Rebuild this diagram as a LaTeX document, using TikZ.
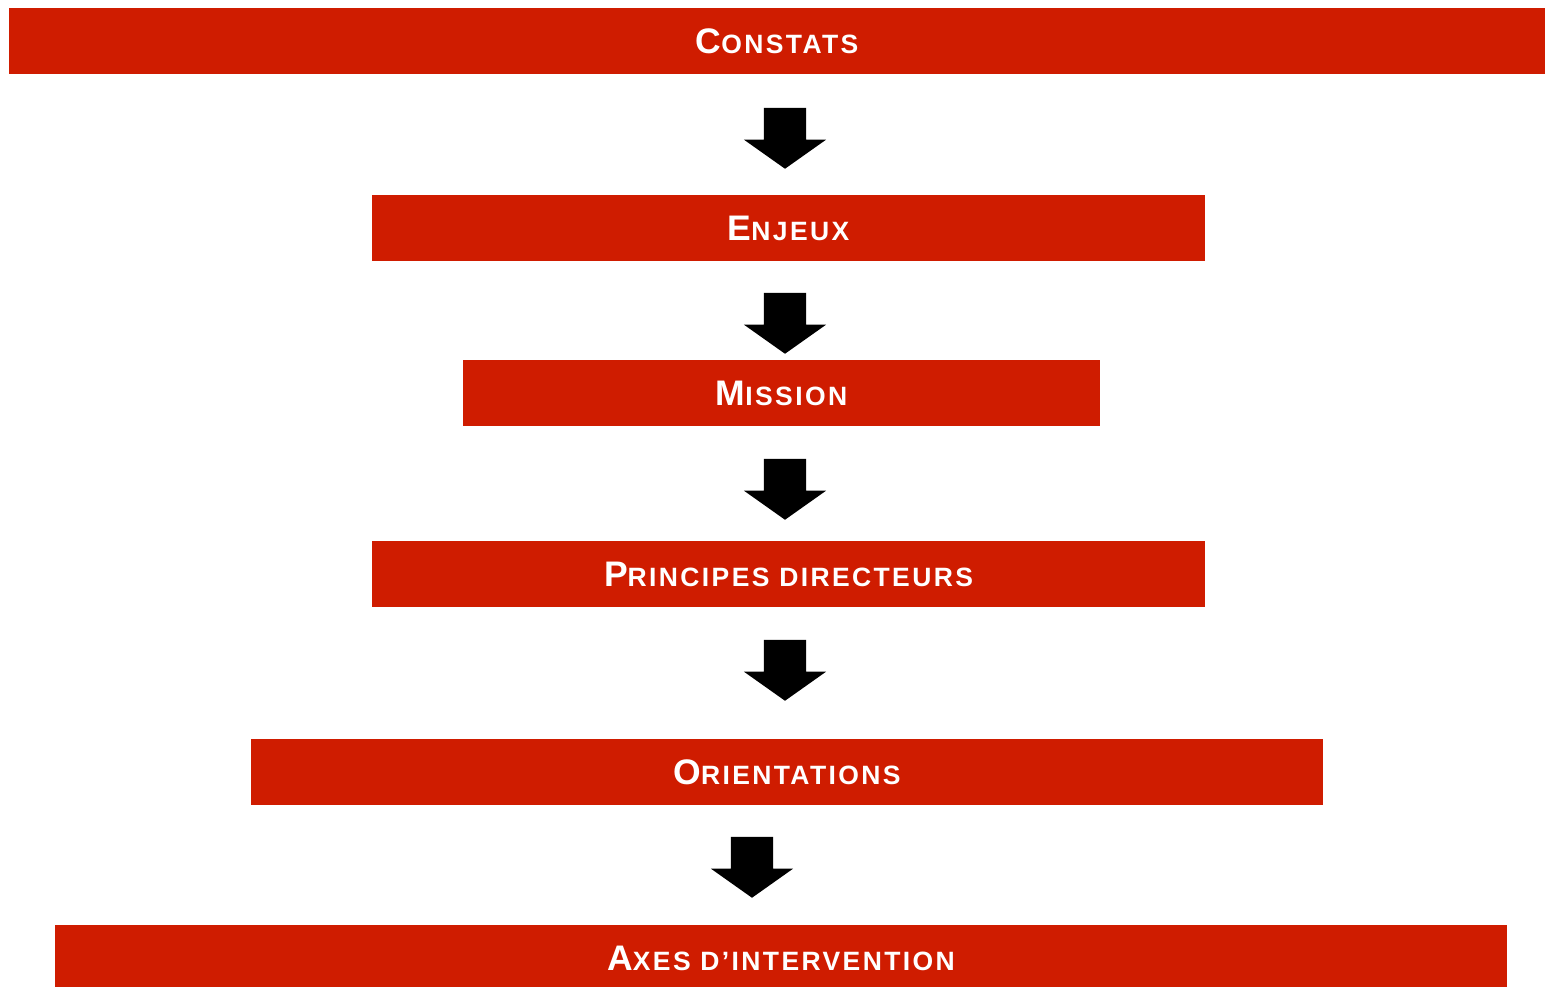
\documentclass[tikz,border=0pt]{standalone}
\usepackage{fontspec}
\setmainfont{Liberation Sans}[LetterSpace=9]
\usepackage{tikz}
\usetikzlibrary{shapes,shapes.arrows}
\definecolor{bandeau}{rgb}{0.81,0.11,0.00}
\tikzstyle{bandeau}=[rectangle, fill=bandeau, text=white, font=\bfseries, minimum height=66pt, inner sep=0pt, text height=25pt, text depth=0pt]
\tikzstyle{fleche}=[single arrow, fill=black, rotate=-90, anchor=tip, inner xsep=0pt, inner ysep=21pt, minimum width=82pt, minimum height=61pt, single arrow head extend=20pt, single arrow tip angle=109.4]
\newcommand{\pc}[2]{{\fontsize{35.5}{35.5}\selectfont #1}{\fontsize{26.5}{26.5}\selectfont #2}}
\newcommand{\bandeau}[4]{
	\node[bandeau, minimum width=#3] (#1) at (#2) {#4};}
\newcommand{\fleche}[2]{
	\node[fleche] (#1) at (#2) {};}

\begin{document}
\begin{tikzpicture}[x=1pt,y=-1pt]
\useasboundingbox (0,0) rectangle (1545,987);

\bandeau{constats}{777,41}{1536pt}{\pc{C}{ONSTATS}}
\fleche{f1}{785,169}
\bandeau{enjeux}{788.5,228}{833pt}{\pc{E}{NJEUX}}
\fleche{f2}{785,354}
\bandeau{mission}{781.5,393}{637pt}{\pc{M}{ISSION}}
\fleche{f3}{785,520}
\bandeau{principes}{788.5,574}{833pt}{\pc{P}{RINCIPES DIRECTEURS}}
\fleche{f4}{785,701}
\bandeau{orientations}{787,772}{1072pt}{\pc{O}{RIENTATIONS}}
\fleche{f5}{752,898}
\bandeau{axes}{781,958}{1452pt}{\pc{A}{XES D’INTERVENTION}}
\end{tikzpicture}
\end{document}
